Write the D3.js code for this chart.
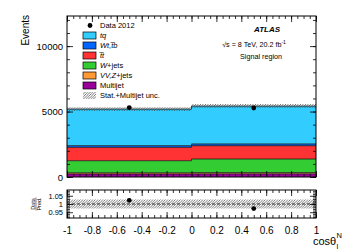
<!DOCTYPE html>
<html><head><meta charset="utf-8">
<script src="https://cdn.jsdelivr.net/npm/d3@7"></script>
<style>body{margin:0;background:#fff}svg{display:block}text{font-family:"Liberation Sans",Arial,Helvetica,sans-serif}</style>
</head><body>
<script>
// ---- data ----
const binEdges = [-1, 0, 1];
const multijet = [235, 245];
const vvzjets = [90, 95];
const wjets = [920, 1035];
const ttbar = [1020, 1015];
const wt = [130, 135];
const tq = [2795, 2895];
const dataVals = [5305, 5270];
const dataX = [-0.5, 0.5];
const uncFrac = [0.028, 0.028];
const xTicks = [-1, -0.8, -0.6, -0.4, -0.2, 0, 0.2, 0.4, 0.6, 0.8, 1];
const yTicks = [0, 5000, 10000];
const rTicks = [0.95, 1, 1.05];
const legendLabels = ["Data 2012", "tq", "Wt,t\u0305b", "t\u0305t", "W+jets", "VV,Z+jets", "Multijet", "Stat.+Multijet unc."];

const W = 349, H = 251;
const svg = d3.select("body").append("svg").attr("width", W).attr("height", H);
const defs = svg.append("defs");
const pat = defs.append("pattern").attr("id", "hatch").attr("patternUnits", "userSpaceOnUse")
  .attr("width", 2.5).attr("height", 2.5);
pat.append("path").attr("d", "M-1,1 l2,-2 M0,2.5 l2.5,-2.5 M1.5,3.5 l2,-2").attr("stroke", "#444").attr("stroke-width", 0.7);

const x = d3.scaleLinear().domain([-1, 1]).range([67, 316]);
const y = d3.scaleLinear().domain([0, 12300]).range([177, 16]);
const yr = d3.scaleLinear().domain([0.915, 1.085]).range([218, 190]);

const keys = ["multijet", "vv", "wjets", "ttbar", "wt", "tq"];
const colors = { multijet: "#990099", vv: "#ff9933", wjets: "#33cc33", ttbar: "#ff3333", wt: "#0066ff", tq: "#33ccff" };
const rows = binEdges.slice(0, -1).map((e, i) => ({
  multijet: multijet[i], vv: vvzjets[i], wjets: wjets[i], ttbar: ttbar[i], wt: wt[i], tq: tq[i]
}));
const stack = d3.stack().keys(keys)(rows);
const totals = rows.map(r => keys.reduce((s, k) => s + r[k], 0));

function stepPts(arr) {
  const pts = arr.map((d, i) => ({ x: binEdges[i], y0: d[0], y1: d[1] }));
  const last = arr[arr.length - 1];
  pts.push({ x: binEdges[binEdges.length - 1], y0: last[0], y1: last[1] });
  return pts;
}
const area = d3.area().curve(d3.curveStepAfter).x(d => x(d.x)).y0(d => y(d.y0)).y1(d => y(d.y1));
const topLine = d3.line().curve(d3.curveStepAfter).x(d => x(d.x)).y(d => y(d.y1));

const gMain = svg.append("g");
stack.forEach(layer => {
  const pts = stepPts(layer.map(d => [d[0], d[1]]));
  gMain.append("path").attr("d", area(pts)).attr("fill", colors[layer.key]);
});
stack.forEach(layer => {
  const pts = stepPts(layer.map(d => [d[0], d[1]]));
  gMain.append("path").attr("d", topLine(pts)).attr("fill", "none").attr("stroke", "#1a1a1a").attr("stroke-width", 0.8);
});
const uncPts = stepPts(totals.map((t, i) => [t * (1 - uncFrac[i]), t * (1 + uncFrac[i])]));
gMain.append("path").attr("d", area(uncPts)).attr("fill", "url(#hatch)");
gMain.selectAll("circle.d").data(dataVals).join("circle")
  .attr("cx", (d, i) => x(dataX[i])).attr("cy", d => y(d)).attr("r", 2.4).attr("fill", "#000");

// ratio panel
const gR = svg.append("g");
const rBand = stepPts(uncFrac.map(u => [1 - u, 1 + u]));
const areaR = d3.area().curve(d3.curveStepAfter).x(d => x(d.x)).y0(d => yr(d.y0)).y1(d => yr(d.y1));
gR.append("path").attr("d", areaR(rBand)).attr("fill", "url(#hatch)");
gR.append("line").attr("x1", x(-1)).attr("x2", x(1)).attr("y1", yr(1)).attr("y2", yr(1))
  .attr("stroke", "#000").attr("stroke-width", 0.8).attr("stroke-dasharray", "3,2");
gR.selectAll("circle").data(dataVals).join("circle")
  .attr("cx", (d, i) => x(dataX[i])).attr("cy", (d, i) => yr(d / totals[i])).attr("r", 2.4).attr("fill", "#000");

function minorRange(a, b, s) { const out = []; for (let v = a; v <= b + 1e-9; v += s) out.push(+v.toFixed(6)); return out; }
function axes(yScale, yMajor, yMinor, top, bottom, xLabels, yFmt, yFont) {
  const g = svg.append("g");
  g.append("g").attr("transform", `translate(0,${bottom})`).call(d3.axisBottom(x).tickValues(minorRange(-1, 1, 0.05)).tickSize(-3).tickFormat(""));
  const xb = g.append("g").attr("transform", `translate(0,${bottom})`).call(d3.axisBottom(x).tickValues(xTicks).tickSize(-6).tickPadding(9).tickFormat(xLabels ? d => String(d) : ""));
  xb.selectAll("text").attr("font-size", 10).attr("fill", "#000");
  g.append("g").attr("transform", `translate(0,${top})`).call(d3.axisTop(x).tickValues(minorRange(-1, 1, 0.05)).tickSize(-3).tickFormat(""));
  g.append("g").attr("transform", `translate(0,${top})`).call(d3.axisTop(x).tickValues(xTicks).tickSize(-6).tickFormat(""));
  g.append("g").attr("transform", `translate(${x(-1)},0)`).call(d3.axisLeft(yScale).tickValues(yMinor).tickSize(-3).tickFormat(""));
  const yl = g.append("g").attr("transform", `translate(${x(-1)},0)`).call(d3.axisLeft(yScale).tickValues(yMajor).tickSize(-6).tickPadding(4).tickFormat(yFmt));
  yl.selectAll("text").attr("font-size", yFont).attr("fill", "#000");
  g.append("g").attr("transform", `translate(${x(1)},0)`).call(d3.axisRight(yScale).tickValues(yMinor).tickSize(-3).tickFormat(""));
  g.append("g").attr("transform", `translate(${x(1)},0)`).call(d3.axisRight(yScale).tickValues(yMajor).tickSize(-6).tickFormat(""));
  g.selectAll(".domain").remove();
  g.selectAll("line").attr("stroke", "#000").attr("stroke-width", 0.8);
  g.append("rect").attr("x", x(-1)).attr("y", top).attr("width", x(1) - x(-1)).attr("height", bottom - top)
    .attr("fill", "none").attr("stroke", "#000").attr("stroke-width", 1);
}
axes(y, yTicks, minorRange(0, 12000, 1000), 16, 177, false, d => String(d), 9.5);
axes(yr, rTicks, minorRange(0.92, 1.08, 0.01), 190, 218, true, d => String(d), 7.5);

svg.append("text").attr("transform", "translate(29,15) rotate(-90)").attr("text-anchor", "end")
  .attr("font-size", 10).text("Events");
const fr = svg.append("g").attr("transform", "translate(36,204) rotate(-90)");
fr.append("text").attr("x", 0).attr("y", -1.5).attr("text-anchor", "middle").attr("font-size", 5.5).text("Data");
fr.append("line").attr("x1", -6.5).attr("x2", 6.5).attr("y1", 0).attr("y2", 0).attr("stroke", "#000").attr("stroke-width", 0.5);
fr.append("text").attr("x", 0).attr("y", 5).attr("text-anchor", "middle").attr("font-size", 5.5).text("Pred.");

svg.append("text").attr("x", 313).attr("y", 245).attr("font-size", 11).text("cos\u03B8");
svg.append("text").attr("x", 336.5).attr("y", 238).attr("font-size", 7.5).text("N");
svg.append("text").attr("x", 336.5).attr("y", 249).attr("font-size", 7.5).text("l");

// legend
const lg = svg.append("g");
const ly0 = 25.5, ldy = 10;
lg.append("circle").attr("cx", 90).attr("cy", ly0).attr("r", 2.4).attr("fill", "#000");
const legendKeys = [null, "tq", "wt", "ttbar", "wjets", "vv", "multijet", "unc"];
legendKeys.forEach((k, i) => {
  const cy = ly0 + i * ldy;
  if (k) {
    lg.append("rect").attr("x", 83).attr("y", cy - 3.5).attr("width", 13).attr("height", 7)
      .attr("fill", k === "unc" ? "url(#hatch)" : colors[k]).attr("stroke", k === "unc" ? "none" : "#000").attr("stroke-width", 0.7);
  }
  const t = lg.append("text").attr("x", 100).attr("y", cy + 2.7).attr("font-size", 7.5);
  if (i >= 1 && i <= 5) t.attr("font-style", "italic");
  if (k === "wjets") { t.append("tspan").attr("font-style", "italic").text("W"); t.append("tspan").attr("font-style", "normal").text("+jets"); }
  else if (k === "vv") { t.append("tspan").attr("font-style", "italic").text("VV,Z"); t.append("tspan").attr("font-style", "normal").text("+jets"); }
  else t.text(legendLabels[i]);
});

svg.append("text").attr("x", 267).attr("y", 32).attr("text-anchor", "middle").attr("font-size", 8)
  .attr("font-weight", "bold").attr("font-style", "italic").text("ATLAS");
const en = svg.append("text").attr("x", 254).attr("y", 47).attr("text-anchor", "middle").attr("font-size", 7.2);
en.append("tspan").text("\u221As = 8 TeV, 20.2 fb");
en.append("tspan").attr("dy", -3).attr("font-size", 5).text("-1");
svg.append("text").attr("x", 261).attr("y", 59).attr("text-anchor", "middle").attr("font-size", 7.2).text("Signal region");
</script>
</body></html>
